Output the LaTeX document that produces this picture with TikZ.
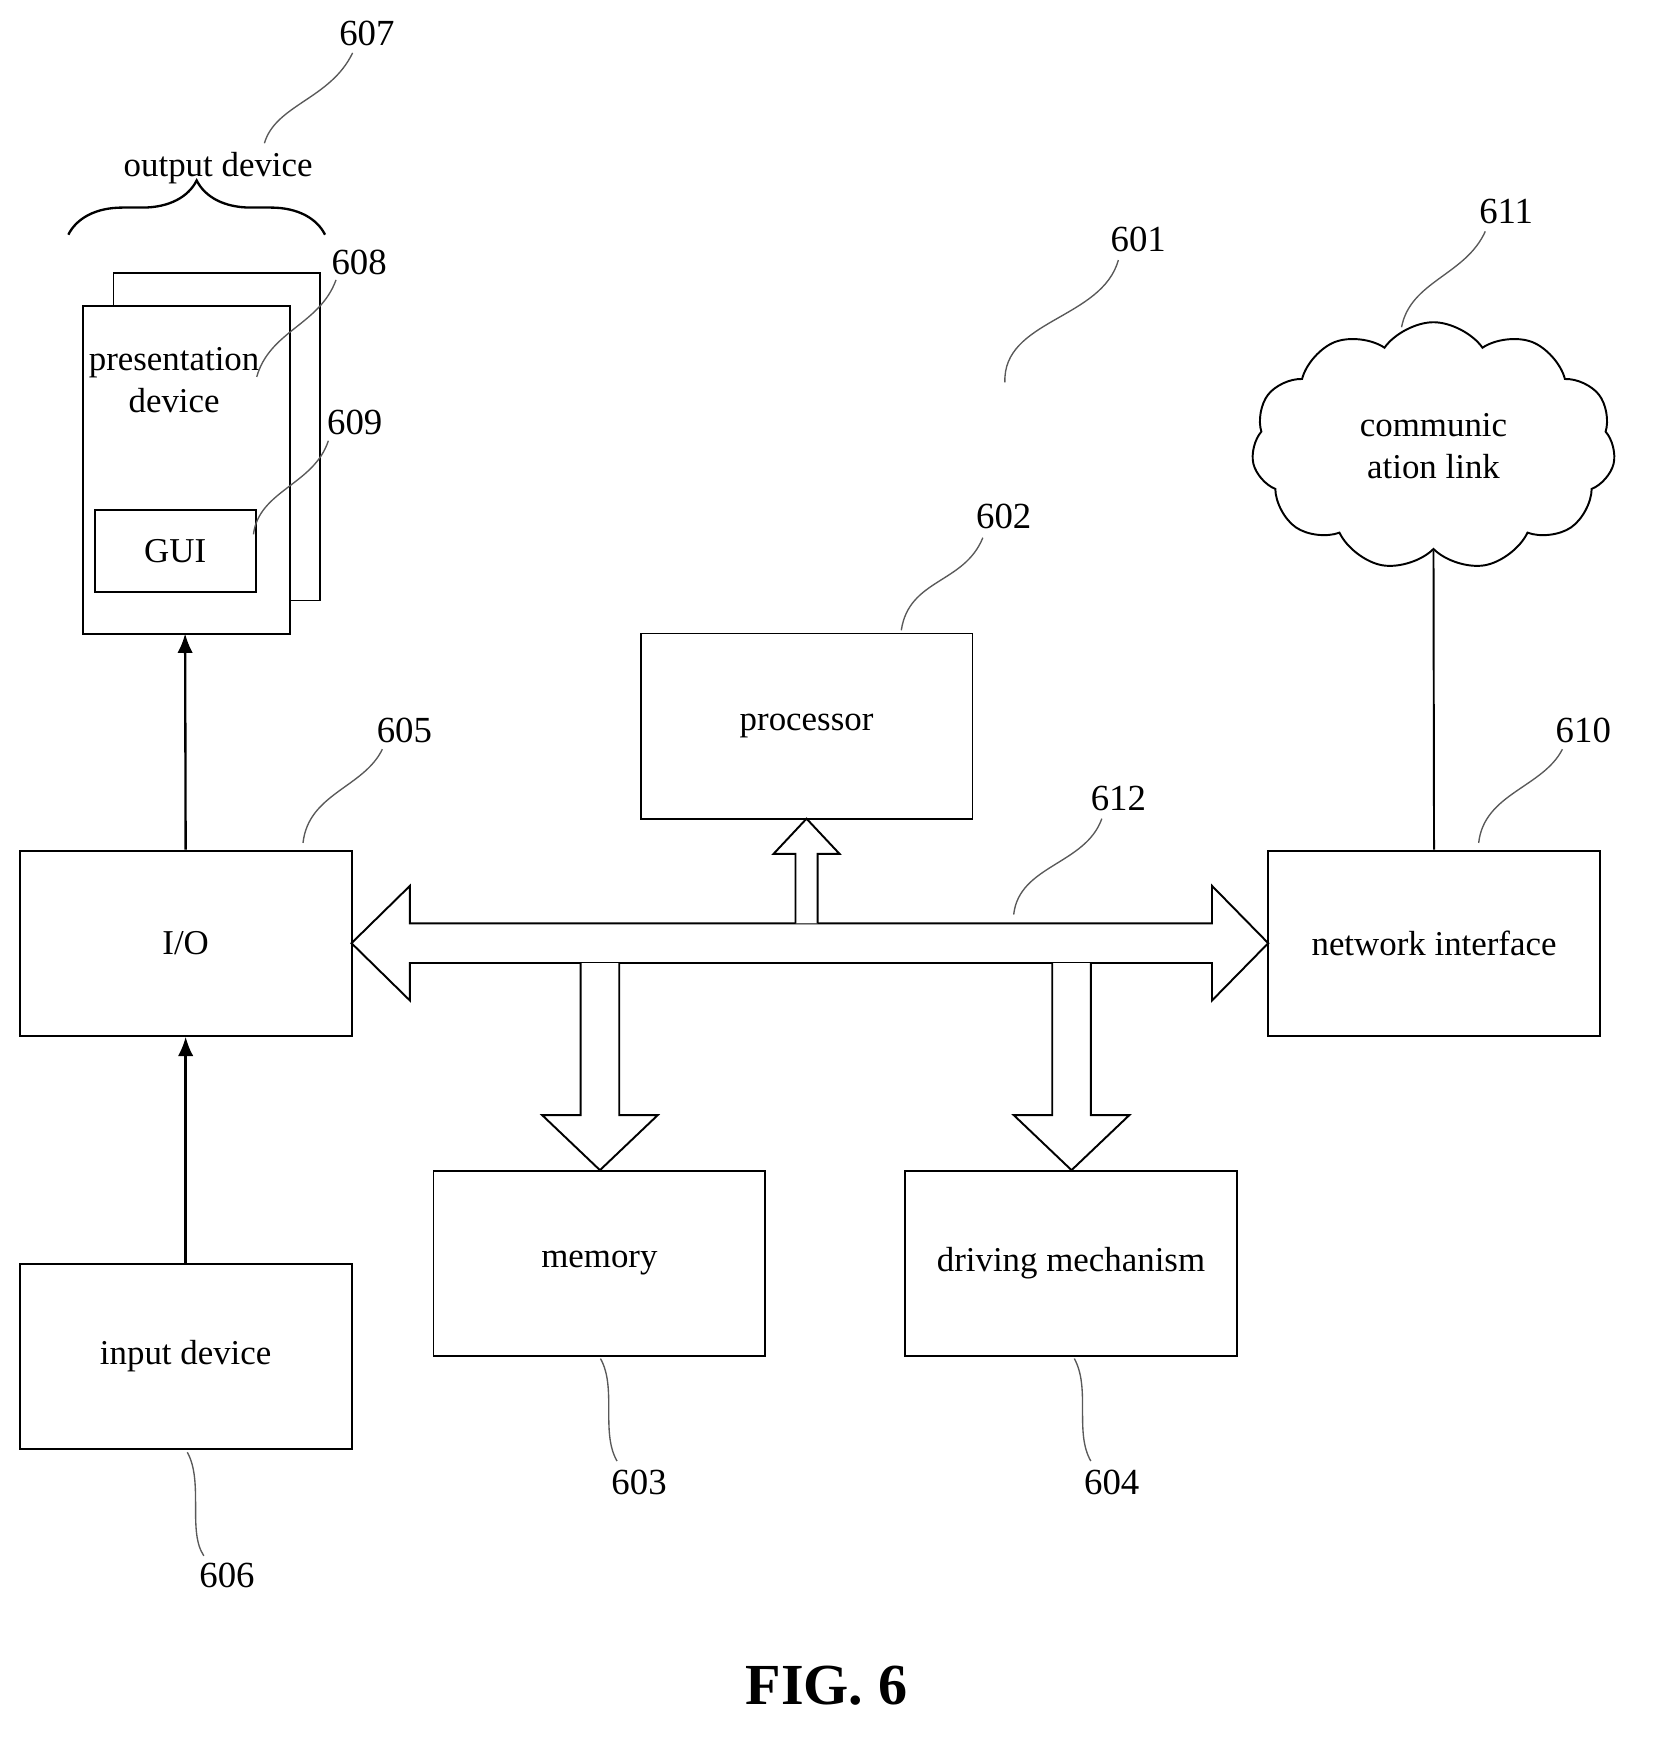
\documentclass[tikz,border=0pt]{standalone}
\usepackage{fontspec}
\setmainfont{Liberation Serif}
\usetikzlibrary{shapes.symbols,decorations.pathreplacing,arrows.meta}
\begin{document}
\begin{tikzpicture}[x=0.01cm,y=-0.01cm,
  box/.style={draw,line width=0.5pt,minimum width=3.01cm,minimum height=1.68cm,font=\fontsize{9}{11}\selectfont,align=center,inner sep=0pt},
  num/.style={font=\fontsize{9.5}{11}\selectfont,inner sep=1pt},
  lead/.style={draw,line width=0.35pt,gray!70!black},
  arr/.style={draw,line width=0.6pt,-{Latex[length=5pt,width=4pt]}},
  fat/.style={draw,line width=0.5pt,fill=white}]
\useasboundingbox (0,0) rectangle (1500,1581);
% output device
\node[num] (n607) at (333,30) {607};
\draw[lead] (240,130) .. controls (250,95) and (300,90) .. (320,48);
\node[font=\fontsize{9}{11}\selectfont] (out) at (198,153) {output device};
\draw[line width=0.6pt,decorate,decoration={brace,amplitude=14pt}] (62,213) -- (295,213);
\draw[line width=0.5pt] (103,248) rectangle (290,545);
\draw[line width=0.5pt,fill=white] (75,278) rectangle (263,575);
\node[font=\fontsize{9}{11}\selectfont,align=center] (pres) at (158,345) {presentation\\device};
\node[draw,line width=0.5pt,minimum width=1.46cm,minimum height=0.74cm,font=\fontsize{9}{11}\selectfont,inner sep=0pt] (gui) at (159,500) {GUI};
\coordinate (pd) at (168,575);
\node[num] (n608) at (326,238) {608};
\draw[lead] (233,342) .. controls (245,300) and (290,295) .. (305,254);
\node[num] (n609) at (322,383) {609};
\draw[lead] (230,485) .. controls (235,445) and (285,440) .. (298,400);
% boxes
\node[box] (io) at (168.5,856) {I/O};
\node[box] (in) at (168.5,1231) {input device};
\node[box] (proc) at (732,659) {processor};
\node[box] (mem) at (544,1146.5) {memory};
\node[box] (drv) at (972,1146.5) {driving mechanism};
\node[box] (net) at (1301.5,856) {network interface};
\node[draw,cloud,cloud puffs=11,cloud puff arc=110,aspect=1.5,minimum width=3.3cm,minimum height=2.25cm,line width=0.5pt,align=center,font=\fontsize{9}{11}\selectfont,inner sep=0pt] (cl) at (1301,405) {communic\\ation link};
\draw[arr] (io.north) -- (pd);
\draw[arr] (in.north) -- (io.south);
\draw[line width=0.5pt] (cl.south) -- (net.north);
% bus
\draw[fat] (319,856) -- (372,804) -- (372,838) -- (1100,838) -- (1100,804) -- (1151,856) -- (1100,908) -- (1100,874) -- (372,874) -- (372,908) -- cycle;
\draw[fat] (722,838) -- (722,775) -- (702,775) -- (732,743) -- (762,775) -- (742,775) -- (742,838);
\draw[fat] (527,874) -- (527,1012) -- (492,1012) -- (544.5,1062) -- (597,1012) -- (562,1012) -- (562,874);
\draw[fat] (955,874) -- (955,1012) -- (920,1012) -- (972.5,1062) -- (1025,1012) -- (990,1012) -- (990,874);
% numbers
\node[num] (n605) at (367,663) {605};
\draw[lead] (275,765) .. controls (280,720) and (330,715) .. (347,680);
\node[num] (n606) at (206,1430) {606};
\draw[lead] (170,1318) .. controls (185,1345) and (170,1390) .. (185,1412);
\node[num] (n602) at (911,469) {602};
\draw[lead] (818,572) .. controls (825,525) and (875,530) .. (892,488);
\node[num] (n603) at (580,1345) {603};
\draw[lead] (545,1233) .. controls (560,1260) and (545,1300) .. (560,1326);
\node[num] (n604) at (1009,1345) {604};
\draw[lead] (975,1233) .. controls (990,1260) and (975,1300) .. (990,1326);
\node[num] (n610) at (1437,663) {610};
\draw[lead] (1342,765) .. controls (1347,720) and (1400,715) .. (1418,680);
\node[num] (n611) at (1367,192) {611};
\draw[lead] (1272,297) .. controls (1280,255) and (1330,250) .. (1348,210);
\node[num] (n601) at (1033,217) {601};
\draw[lead] (912,347) .. controls (910,290) and (1000,290) .. (1015,236);
\node[num] (n612) at (1015,725) {612};
\draw[lead] (920,830) .. controls (925,785) and (985,785) .. (1000,743);
\node[font=\bfseries\fontsize{15}{18}\selectfont] (fig) at (750,1530) {FIG. 6};
\end{tikzpicture}
\end{document}
